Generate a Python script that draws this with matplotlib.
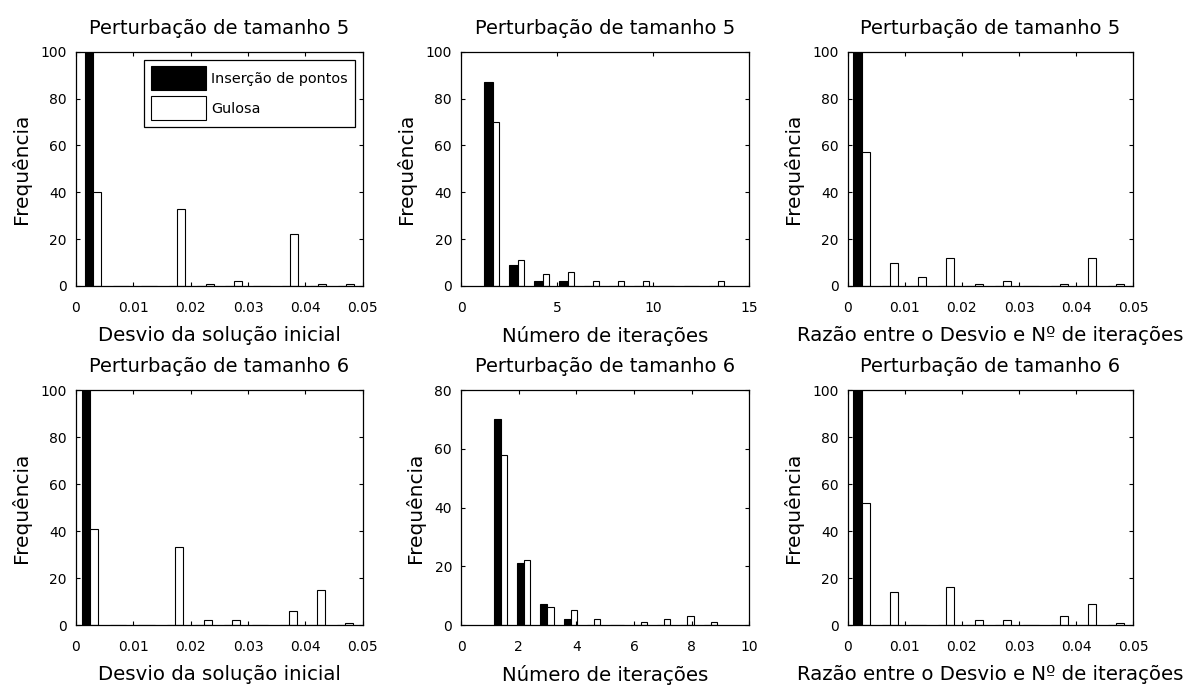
import numpy as np
import matplotlib.pyplot as plt
from matplotlib.ticker import FormatStrFormatter

plt.rcParams["font.family"] = "DejaVu Sans"

# centros das classes (hist com 10 classes) e frequencias
# Perturbacao de tamanho 5
c_desvio5 = [0.0030, 0.0079, 0.0128, 0.0177, 0.0226, 0.0275, 0.0324, 0.0373, 0.0422, 0.0471]
ins_desvio5 = [100, 0, 0, 0, 0, 0, 0, 0, 0, 0]
gul_desvio5 = [40, 0, 0, 33, 1, 2, 0, 22, 1, 1]

c_iter5 = [1.65, 2.95, 4.25, 5.55, 6.85, 8.15, 9.45, 10.75, 12.05, 13.35]
ins_iter5 = [87, 9, 2, 2, 0, 0, 0, 0, 0, 0]
gul_iter5 = [70, 11, 5, 6, 2, 2, 2, 0, 0, 2]

c_razao5 = [0.00245, 0.0074, 0.01235, 0.0173, 0.02225, 0.0272, 0.03215, 0.0371, 0.04205, 0.0470]
ins_razao5 = [100, 0, 0, 0, 0, 0, 0, 0, 0, 0]
gul_razao5 = [57, 10, 4, 12, 1, 2, 0, 1, 12, 1]

# Perturbacao de tamanho 6
c_desvio6 = [0.00245, 0.0074, 0.01235, 0.0173, 0.02225, 0.0272, 0.03215, 0.0371, 0.04205, 0.0470]
ins_desvio6 = [100, 0, 0, 0, 0, 0, 0, 0, 0, 0]
gul_desvio6 = [41, 0, 0, 33, 2, 2, 0, 6, 15, 1]

c_iter6 = [1.37, 2.18, 2.99, 3.80, 4.61, 5.42, 6.23, 7.04, 7.85, 8.66]
ins_iter6 = [70, 21, 7, 2, 0, 0, 0, 0, 0, 0]
gul_iter6 = [58, 22, 6, 5, 2, 0, 1, 2, 3, 1]

c_razao6 = [0.00245, 0.0074, 0.01235, 0.0173, 0.02225, 0.0272, 0.03215, 0.0371, 0.04205, 0.0470]
ins_razao6 = [100, 0, 0, 0, 0, 0, 0, 0, 0, 0]
gul_razao6 = [52, 14, 0, 16, 2, 2, 0, 4, 9, 1]

lbl_desvio = "Desvio da solução inicial"
lbl_iter = "Número de iterações"
lbl_razao = "Razão entre o Desvio e Nº de iterações"


def painel(ax, c, ins, gul, wp, wb, xmax, xt, ymax, titulo, xlabel, fmt):
    ax.bar(c, ins, width=-wp, align='edge', color='k', edgecolor='k', linewidth=0.8,
           label="Inserção de pontos")
    ax.bar(c, gul, width=wb, align='edge', color='w', edgecolor='k', linewidth=0.8,
           label="Gulosa")
    ax.set_xlim(0, xmax)
    ax.set_ylim(0, ymax)
    ax.set_xticks(xt)
    ax.set_yticks(np.arange(0, ymax + 1, 20))
    ax.xaxis.set_major_formatter(FormatStrFormatter(fmt))
    ax.tick_params(direction='in', top=True, right=True, length=3, width=0.8,
                   labelsize=10)
    ax.tick_params(axis='x', pad=11)
    ax.tick_params(axis='y', pad=6.5)
    for s in ax.spines.values():
        s.set_linewidth(0.9)
    ax.set_title(titulo, fontsize=14, pad=13)
    ax.set_xlabel(xlabel, fontsize=14.2, labelpad=8)
    ax.set_ylabel("Frequência", fontsize=14.5, labelpad=7)


fig = plt.figure(figsize=(11.87, 6.87), dpi=100)
xs = [0.0640, 0.3884, 0.7141]
ws = [0.2415, 0.2429, 0.2406]
ax1 = fig.add_axes([xs[0], 0.5837, ws[0], 0.3411])
ax2 = fig.add_axes([xs[1], 0.5837, ws[1], 0.3411])
ax3 = fig.add_axes([xs[2], 0.5837, ws[2], 0.3411])
ax4 = fig.add_axes([xs[0], 0.0902, ws[0], 0.3421])
ax5 = fig.add_axes([xs[1], 0.0902, ws[1], 0.3421])
ax6 = fig.add_axes([xs[2], 0.0902, ws[2], 0.3421])

t5 = "Perturbação de tamanho 5"
t6 = "Perturbação de tamanho 6"
xt_d = [0, 0.01, 0.02, 0.03, 0.04, 0.05]

painel(ax1, c_desvio5, ins_desvio5, gul_desvio5, 0.00145, 0.0014, 0.05, xt_d, 100, t5, lbl_desvio, '%g')
painel(ax2, c_iter5, ins_iter5, gul_iter5, 0.43, 0.33, 15, [0, 5, 10, 15], 100, t5, lbl_iter, '%g')
painel(ax3, c_razao5, ins_razao5, gul_razao5, 0.00146, 0.0014, 0.05, xt_d, 100, t5, lbl_razao, '%g')
painel(ax4, c_desvio6, ins_desvio6, gul_desvio6, 0.00146, 0.0014, 0.05, xt_d, 100, t6, lbl_desvio, '%g')
painel(ax5, c_iter6, ins_iter6, gul_iter6, 0.24, 0.22, 10, [0, 2, 4, 6, 8, 10], 80, t6, lbl_iter, '%g')
painel(ax6, c_razao6, ins_razao6, gul_razao6, 0.00146, 0.0014, 0.05, xt_d, 100, t6, lbl_razao, '%g')

leg = ax1.legend(loc='upper right', fontsize=10.4, fancybox=False, framealpha=1,
                 edgecolor='k', handlelength=3.8, handleheight=2.2,
                 labelspacing=0.4, handletextpad=0.4, borderpad=0.45,
                 borderaxespad=0.55)
leg.get_frame().set_linewidth(0.9)

plt.savefig('out.png', dpi=100)
